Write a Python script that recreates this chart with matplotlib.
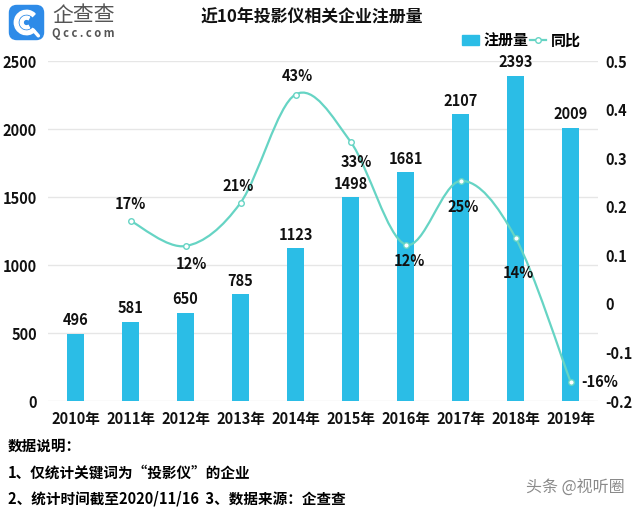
import numpy as np
import matplotlib
matplotlib.use("Agg")
import matplotlib.pyplot as plt
from matplotlib.path import Path
from matplotlib.patches import PathPatch, FancyBboxPatch, Wedge, Rectangle
from matplotlib.lines import Line2D

plt.rcParams['font.family'] = ['Noto Sans CJK SC', 'DejaVu Sans']

# -------------------------
# Dati
# -------------------------
years = ["2010年", "2011年", "2012年", "2013年", "2014年",
         "2015年", "2016年", "2017年", "2018年", "2019年"]
counts = [496, 581, 650, 785, 1123, 1498, 1681, 2107, 2393, 2009]
# tasso di crescita dal 2011
growth = [0.171, 0.119, 0.208, 0.431, 0.334, 0.122, 0.253, 0.136, -0.160]
growth_labels = ["17%", "12%", "21%", "43%", "33%", "12%", "25%", "14%", "-16%"]
# spostamento etichette (punti): sopra / sotto
growth_offsets = [(0, 12), (4, -13), (-2, 12), (1, 13), (4, -15),
                  (3, -12), (2, -19), (2, -25), (8, 0)]

bar_color = "#2BBDE6"
line_color = "#66D4C4"

fig = plt.figure(figsize=(6.4, 5.12), dpi=100)
ax = fig.add_axes([48/640, 1-401/512, 550/640, 340/512])
ax2 = ax.twinx()

x = np.arange(len(years))
ax.bar(x, counts, width=0.31, color=bar_color, zorder=2)
for xi, c in zip(x, counts):
    ax.annotate(str(c), (xi, c), xytext=(0, 4), textcoords="offset points",
                ha="center", va="bottom", fontsize=10.5, fontweight="bold", color="#111111")

ax.set_xlim(-0.5, 9.5)
ax.set_ylim(0, 2500)
ax.set_yticks(range(0, 2501, 500))
ax.set_xticks(x)
ax.set_xticklabels(years)
ax.grid(axis="y", color="#e6e6e6", linewidth=1, zorder=0)
ax.set_axisbelow(True)
ax.tick_params(axis="both", length=0, labelsize=10.5, colors="#111111")
ax.tick_params(axis="y", pad=8)
ax.tick_params(axis="x", pad=7)
for lab in ax.get_xticklabels() + ax.get_yticklabels():
    lab.set_fontweight("bold")

# linea smussata (Catmull-Rom -> Bezier)
gx = x[1:].astype(float)
gy = np.array(growth)
verts = [(gx[0], gy[0])]
codes = [Path.MOVETO]
n = len(gx)
for i in range(n - 1):
    p0 = (gx[max(i-1, 0)], gy[max(i-1, 0)])
    p1 = (gx[i], gy[i])
    p2 = (gx[i+1], gy[i+1])
    p3 = (gx[min(i+2, n-1)], gy[min(i+2, n-1)])
    c1 = (p1[0] + (p2[0]-p0[0])/6, p1[1] + (p2[1]-p0[1])/6)
    c2 = (p2[0] - (p3[0]-p1[0])/6, p2[1] - (p3[1]-p1[1])/6)
    verts += [c1, c2, p2]
    codes += [Path.CURVE4]*3
ax2.add_patch(PathPatch(Path(verts, codes), fill=False, edgecolor=line_color, lw=1.6, zorder=3))
ax2.plot(gx, gy, linestyle="none", marker="o", markersize=4, markerfacecolor="white",
         markeredgecolor=line_color, markeredgewidth=1, zorder=4)
for xi, yi, lab, off in zip(gx, gy, growth_labels, growth_offsets):
    ha = "left" if off[1] == 0 else "center"
    ax2.annotate(lab, (xi, yi), xytext=off, textcoords="offset points",
                 ha=ha, va="center", fontsize=10.5, fontweight="bold", color="#111111")

ax2.set_ylim(-0.2, 0.5)
ax2.set_yticks([-0.2, -0.1, 0, 0.1, 0.2, 0.3, 0.4, 0.5])
ax2.set_yticklabels(["-0.2", "-0.1", "0", "0.1", "0.2", "0.3", "0.4", "0.5"])
ax2.tick_params(axis="y", length=0, labelsize=10.5, colors="#111111", pad=5)
for lab in ax2.get_yticklabels():
    lab.set_fontweight("bold")

for a in (ax, ax2):
    for s in a.spines.values():
        s.set_visible(False)

# titolo e legenda
fig.text(312/640, 1-18/512, "近10年投影仪相关企业注册量", ha="center", va="center",
         fontsize=12.2, fontweight="bold", color="#111111")
handles = [Rectangle((0, 0), 1, 1, color=bar_color),
           Line2D([0], [0], color=line_color, lw=1.6, marker="o", markersize=4,
                  markerfacecolor="white", markeredgecolor=line_color)]
leg = fig.legend(handles, ["注册量", "同比"], loc="center", bbox_to_anchor=(0.815, 0.921),
                 ncol=2, frameon=False, handlelength=1.1, handletextpad=0.3,
                 columnspacing=0.1, prop={"weight": "bold", "size": 10.8})

# logo
lax = fig.add_axes([8/640, 1-41/512, 37/640, 37/512])
lax.set_xlim(0, 1)
lax.set_ylim(0, 1)
lax.axis("off")
lax.add_patch(FancyBboxPatch((0.04, 0.04), 0.92, 0.92, boxstyle="round,pad=0,rounding_size=0.2",
                             color="#2E8BE8"))
lax.add_patch(Wedge((0.5, 0.5), 0.33, 45, 315, width=0.1, color="white"))
lax.add_patch(Wedge((0.5, 0.5), 0.17, 60, 300, width=0.08, color="white"))
lax.plot([0.68, 0.82], [0.3, 0.14], color="white", lw=2.5, solid_capstyle="round")
fig.text(52/640, 1-15/512, "企查查", ha="left", va="center", fontsize=15, color="#555555")
fig.text(52/640, 1-33/512, "Q c c . c o m", ha="left", va="center", fontsize=8,
         fontweight="bold", color="#555555")

# note
fig.text(8/640, 1-446/512, "数据说明：", ha="left", va="center", fontsize=10.5, fontweight="bold")
fig.text(8/640, 1-473/512, "1、仅统计关键词为“投影仪”的企业", ha="left", va="center",
         fontsize=10.5, fontweight="bold")
fig.text(8/640, 1-499/512, "2、统计时间截至2020/11/16  3、数据来源：企查查", ha="left", va="center",
         fontsize=10.5, fontweight="bold")
fig.text(575/640, 1-487/512, "头条 @视听圈", ha="center", va="center", fontsize=11.5,
         color="#8a8a8a")

fig.savefig("out.png", dpi=100)
